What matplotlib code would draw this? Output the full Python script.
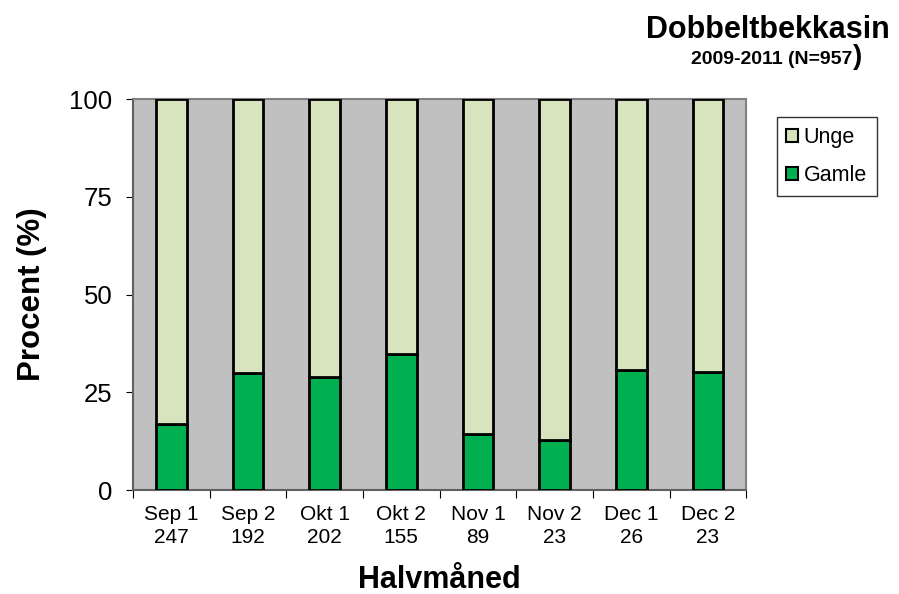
import matplotlib
matplotlib.use("Agg")
import matplotlib.pyplot as plt
import numpy as np

plt.rcParams['font.family'] = ['Liberation Sans', 'DejaVu Sans']

# data
periods = ['Sep 1', 'Sep 2', 'Okt 1', 'Okt 2', 'Nov 1', 'Nov 2', 'Dec 1', 'Dec 2']
counts = [247, 192, 202, 155, 89, 23, 26, 23]
gamle = [16.8, 30.0, 29.0, 34.7, 14.3, 12.9, 30.6, 30.2]
unge = [100 - g for g in gamle]

fig = plt.figure(figsize=(8.99, 5.94), dpi=100)
ax = fig.add_axes([0.148, 0.175, 0.682, 0.658])
ax.set_facecolor('#C0C0C0')

x = np.arange(len(periods))
ax.bar(x, gamle, width=0.4, color='#00B050', edgecolor='black', linewidth=2, label='Gamle', zorder=3)
ax.bar(x, unge, width=0.4, bottom=gamle, color='#D7E4BD', edgecolor='black', linewidth=2, label='Unge', zorder=3)

ax.set_xlim(-0.5, len(periods) - 0.5)
ax.set_ylim(0, 100)
ax.set_yticks([0, 25, 50, 75, 100])
ax.tick_params(axis='y', labelsize=18.5, length=5, color='black', direction='out', pad=10)

# ticks between categories, labels centred under bars
ax.set_xticks(np.arange(len(periods) + 1) - 0.5)
ax.set_xticklabels([])
ax.set_xticks(x, minor=True)
ax.set_xticklabels([f'{p}\n{n}' for p, n in zip(periods, counts)], minor=True,
                   fontsize=15, linespacing=1.25)
ax.tick_params(axis='x', which='major', length=6, color='black')
ax.tick_params(axis='x', which='minor', length=0, pad=11)

for side in ['top', 'right']:
    ax.spines[side].set_color('#808080')
    ax.spines[side].set_linewidth(1.5)
for side in ['left', 'bottom']:
    ax.spines[side].set_color('#606060')
    ax.spines[side].set_linewidth(1.5)

ax.set_ylabel('Procent (%)', fontsize=22.5, fontweight='bold', labelpad=16)
ax.set_xlabel('Halvmåned', fontsize=22, fontweight='bold', labelpad=13)

handles, labels = ax.get_legend_handles_labels()
leg = fig.legend(handles[::-1], labels[::-1], loc='upper left', bbox_to_anchor=(0.864, 0.803),
                 fontsize=15.5, frameon=True, fancybox=False, edgecolor='black',
                 handlelength=0.55, handleheight=0.55, handletextpad=0.25,
                 labelspacing=0.8, borderpad=0.45, borderaxespad=0)
leg.get_frame().set_linewidth(1.0)
for p in leg.get_patches():
    p.set_linewidth(1.5)

fig.text(0.99, 0.936, 'Dobbeltbekkasin', ha='right', va='baseline', fontsize=22, fontweight='bold')
fig.text(0.948, 0.893, '2009-2011 (N=957', ha='right', va='baseline', fontsize=14, fontweight='bold')
fig.text(0.949, 0.893, ')', ha='left', va='baseline', fontsize=20, fontweight='bold')

fig.savefig('out.png', dpi=100)
